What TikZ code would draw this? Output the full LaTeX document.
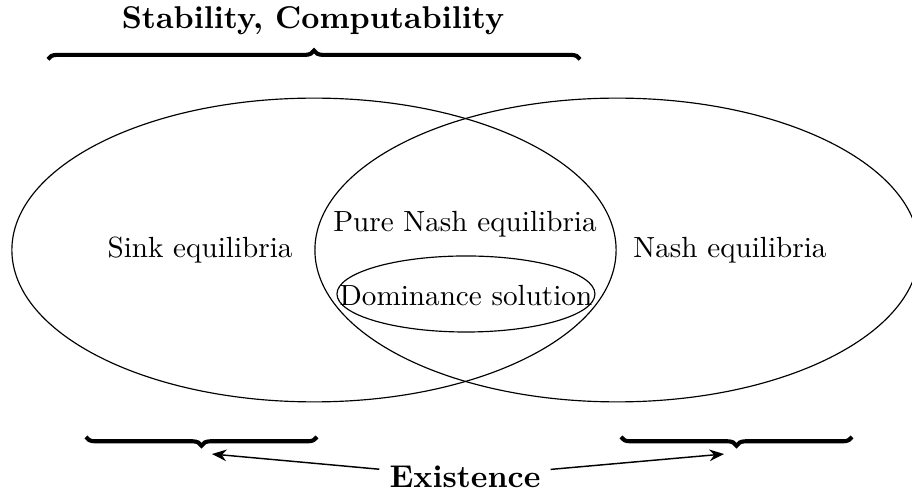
\documentclass[tikz,border=0pt]{standalone}
\usepackage{amsmath,amssymb}
\usepackage{tikz}
\usetikzlibrary{arrows.meta,positioning,decorations.pathreplacing}

\begin{document}
\begin{tikzpicture}[
  setline/.style={draw, line width=0.4pt},
  bracebar/.style={decorate, decoration={brace, amplitude=3pt}, line width=1.4pt},
  bigbold/.style={font=\fontsize{10.8}{13}\selectfont\bfseries},
  arrow/.style={-{Stealth[length=5pt, width=4pt]}, line width=0.5pt}
]
\useasboundingbox (0,0) rectangle (10.988,5.964);

% the three sets
\draw[setline] (3.783,2.952) ellipse [x radius=3.64cm, y radius=1.83cm];
\draw[setline] (7.434,2.952) ellipse [x radius=3.64cm, y radius=1.83cm];
\draw[setline] (5.614,2.422) ellipse [x radius=1.554cm, y radius=0.458cm];

\node (sink) at (2.410,2.952) {Sink equilibria};
\node (nash) at (8.795,2.952) {Nash equilibria};
\node (pure) at (5.602,3.265) {Pure Nash equilibria};
\node (dom) at (5.614,2.398) {Dominance solution};

% braces
\coordinate (tl) at (0.578,5.25);
\coordinate (tr) at (6.988,5.25);
\draw[bracebar] (tl) -- (tr);
\node[bigbold] (stab) at (3.771,5.711) {Stability, Computability};

\coordinate (bl1) at (1.036,0.70);
\coordinate (bl2) at (3.819,0.70);
\coordinate (br1) at (7.482,0.70);
\coordinate (br2) at (10.265,0.70);
\draw[bracebar] (bl2) -- (bl1);
\draw[bracebar] (br2) -- (br1);

\node[bigbold] (exist) at (5.602,0.217) {Existence};
\coordinate (ltip) at (2.554,0.494);
\coordinate (rtip) at (8.723,0.494);
\draw[arrow] (exist) -- (ltip);
\draw[arrow] (exist) -- (rtip);
\end{tikzpicture}
\end{document}
